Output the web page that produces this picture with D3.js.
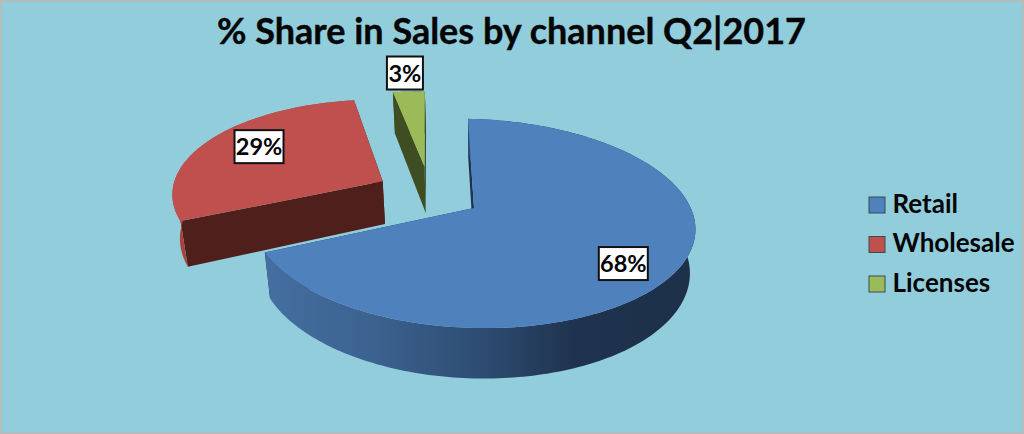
<!DOCTYPE html>
<html><head><meta charset="utf-8">
<script src="https://cdnjs.cloudflare.com/ajax/libs/d3/7.8.5/d3.min.js"></script>
<style>html,body{margin:0;padding:0;background:#92cddc;overflow:hidden}svg{display:block}text{font-family:Lato,"Open Sans",sans-serif;font-weight:700;fill:#050505}</style>
</head><body><svg id="c" width="1024" height="434"></svg>
<script>
const categories = ["Retail","Wholesale","Licenses"];
const shareValues = [68,29,3];
const titleText = "% Share in Sales by channel Q2|2017";

// layout / style (not data)
const W=1024,H=434;
const topColors=["#4f81bd","#c0504d","#9bbb59"];
const wallColors=["#1e3350","#4f1f1c","#3f4d22"];
const rimColors=["url(#blueRim)","#a8433f","#3f4d22"];
const explodeU=[0,-0.432,-0.24], explodeV=[0,0.244,0.416];
const radiusScale=[1,0.975,0.93], depthScale=[1,1.03,1.15];
const labelFrac=[0.79,0.72,1.2], labelShift=[6,3,0];
const cx=474, cy=208, B=219, A=102.2, persp=0.148, shear=6, depth=43, taper=0.975, rot=-1.8*Math.PI/180;

const svg=d3.select("#c");
const defs=svg.append("defs");
const grad=defs.append("linearGradient").attr("id","blueRim").attr("gradientUnits","userSpaceOnUse")
  .attr("x1",267).attr("x2",695).attr("y1",0).attr("y2",0);
[[0,"#446fa0"],[0.25,"#3c628f"],[0.5,"#2d4c72"],[0.72,"#1f334e"],[1,"#1d3049"]].forEach(s=>grad.append("stop").attr("offset",s[0]).attr("stop-color",s[1]));

svg.append("rect").attr("x",1).attr("y",1).attr("width",W-2).attr("height",H-2).attr("fill","#92cddc").attr("stroke","#b4bcbe").attr("stroke-width",2);

const color=d3.scaleOrdinal().domain(categories).range(topColors);
const pie=d3.pie().sort(null).startAngle(rot).endAngle(rot+2*Math.PI);
const arcs=pie(shareValues);

function project(i,r,a,low){
  const u=r*Math.sin(a)+explodeU[i], v=r*Math.cos(a)+explodeV[i];
  const s=1/(1+persp*v);
  const t=low?taper:1;
  return [cx+B*u*s*t, cy-A*v*s+shear*u+(low?depth*depthScale[i]*s:0)];
}
const line=d3.line();
const arcPts=(i,a0,a1,low)=>{
  const n=Math.max(2,Math.ceil(Math.abs(a1-a0)/0.02));
  return d3.range(n+1).map(k=>project(i,radiusScale[i],a0+(a1-a0)*k/n,low));
};
const drawOrder=[2,1,0];
const g=svg.append("g");
drawOrder.forEach(i=>{
  const d=arcs[i], a0=d.startAngle, a1=d.endAngle, R=radiusScale[i];
  [a0,a1].forEach(a=>{
    g.append("path").attr("fill",wallColors[i]).attr("d",line([
      project(i,0,0,false),project(i,R,a,false),project(i,R,a,true),project(i,0,0,true)])+"Z");
  });
  g.append("path").attr("fill",rimColors[i])
    .attr("d",line(arcPts(i,a0,a1,false).concat(arcPts(i,a1,a0,true)))+"Z");
  g.append("path").attr("fill",color(categories[i]))
    .attr("d",line([project(i,0,0,false)].concat(arcPts(i,a0,a1,false)))+"Z");
});

// data labels
const boxW=d=>d>=10?49:36;
arcs.forEach((d,i)=>{
  const mid=(d.startAngle+d.endAngle)/2+labelShift[i]*Math.PI/180;
  const p=project(i,labelFrac[i],mid,false);
  const w=boxW(d.value),h=33;
  const l=svg.append("g").attr("transform",`translate(${p[0]},${p[1]})`);
  l.append("rect").attr("x",-w/2).attr("y",-h/2).attr("width",w).attr("height",h).attr("fill","#fff").attr("stroke","#111").attr("stroke-width",2);
  l.append("text").attr("text-anchor","middle").attr("y",8.5).attr("font-size",23.5).text(d.value+"%");
});

// title
svg.append("text").attr("x",511.5).attr("y",44).attr("text-anchor","middle").attr("font-size",36).attr("stroke","#050505").attr("stroke-width",0.4).text(titleText);

// legend
const legendY=d3.scalePoint().domain(categories).range([205,284]);
const lg=svg.selectAll("g.leg").data(categories).join("g").attr("class","leg").attr("transform",d=>`translate(869,${legendY(d)})`);
lg.append("rect").attr("x",0).attr("y",-8).attr("width",16).attr("height",16).attr("fill",d=>color(d)).attr("stroke","#3a4a55").attr("stroke-width",1);
lg.append("text").attr("x",23.5).attr("y",7.5).attr("font-size",26).text(d=>d);
</script></body></html>
